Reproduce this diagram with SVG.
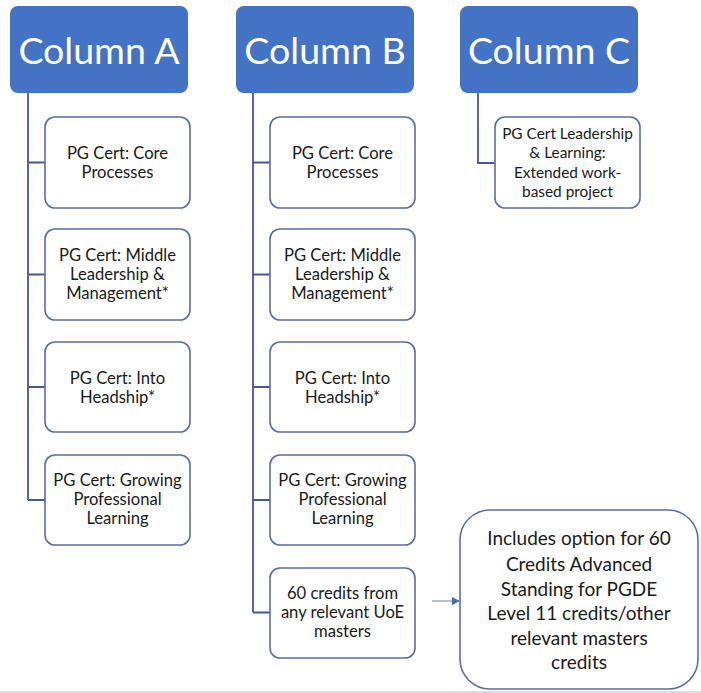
<svg xmlns="http://www.w3.org/2000/svg" width="701" height="693" viewBox="0 0 701 693">
<style>
.hdr{fill:#4472c4;}
.hdrt{font-family:Lato,"Open Sans",sans-serif;font-size:37.5px;fill:#ffffff;text-anchor:middle;}
.box{fill:#ffffff;stroke:#5a6ea6;stroke-width:1.6;}
.bt{font-family:Lato,"Open Sans",sans-serif;font-size:16.6px;fill:#1a1a1a;text-anchor:middle;}
.bc{font-family:Lato,"Open Sans",sans-serif;font-size:15.4px;fill:#1a1a1a;text-anchor:middle;}
.big{font-family:Lato,"Open Sans",sans-serif;font-size:19px;fill:#1a1a1a;text-anchor:middle;}
.conn{fill:none;stroke:#44599a;stroke-width:1.8;}
.arr{fill:none;stroke:#7f95c8;stroke-width:1.2;}
</style>
<defs>
<marker id="ah" viewBox="0 0 10 10" refX="9" refY="5" markerWidth="8" markerHeight="8" markerUnits="userSpaceOnUse" orient="auto">
<path d="M0,0 L10,5 L0,10 z" fill="#4a66b0"/>
</marker>
</defs>
<rect x="0" y="0" width="701" height="693" fill="#ffffff"/>
<rect x="0" y="691" width="701" height="2" fill="#d9dee6"/>
<g id="connectors">
<path class="conn" d="M28,93 V500 M28,162.5 H45 M28,274.5 H45 M28,387 H45 M28,500 H45"/>
<path class="conn" d="M253,93 V612.5 M253,162.5 H270 M253,274.5 H270 M253,387 H270 M253,500 H270 M253,612.5 H270"/>
<path class="conn" d="M478,93 V163 H495"/>
<line class="arr" x1="432" y1="601" x2="459" y2="601" marker-end="url(#ah)"/>
</g>
<g id="colA">
<rect class="hdr" x="10" y="6" width="178" height="87" rx="8"/>
<text class="hdrt" x="99" y="64">Column A</text>
</g>
<g id="colB">
<rect class="hdr" x="236" y="6" width="178" height="87" rx="8"/>
<text class="hdrt" x="325" y="64">Column B</text>
</g>
<g id="colC">
<rect class="hdr" x="460" y="6" width="178" height="87" rx="8"/>
<text class="hdrt" x="549" y="64">Column C</text>
</g>
<g id="a1">
<rect class="box" x="45" y="117" width="145" height="91" rx="10"/>
<text class="bt" x="117.5" y="159">PG Cert: Core</text>
<text class="bt" x="117.5" y="178">Processes</text>
</g>
<g id="a2">
<rect class="box" x="45" y="229" width="145" height="91" rx="10"/>
<text class="bt" x="117.5" y="261">PG Cert: Middle</text>
<text class="bt" x="117.5" y="280">Leadership &amp;</text>
<text class="bt" x="117.5" y="299">Management*</text>
</g>
<g id="a3">
<rect class="box" x="45" y="342" width="145" height="90" rx="10"/>
<text class="bt" x="117.5" y="384">PG Cert: Into</text>
<text class="bt" x="117.5" y="403">Headship*</text>
</g>
<g id="a4">
<rect class="box" x="45" y="455" width="145" height="90" rx="10"/>
<text class="bt" x="117.5" y="486">PG Cert: Growing</text>
<text class="bt" x="117.5" y="505">Professional</text>
<text class="bt" x="117.5" y="524">Learning</text>
</g>
<g id="b1">
<rect class="box" x="270" y="117" width="145" height="91" rx="10"/>
<text class="bt" x="342.5" y="159">PG Cert: Core</text>
<text class="bt" x="342.5" y="178">Processes</text>
</g>
<g id="b2">
<rect class="box" x="270" y="229" width="145" height="91" rx="10"/>
<text class="bt" x="342.5" y="261">PG Cert: Middle</text>
<text class="bt" x="342.5" y="280">Leadership &amp;</text>
<text class="bt" x="342.5" y="299">Management*</text>
</g>
<g id="b3">
<rect class="box" x="270" y="342" width="145" height="90" rx="10"/>
<text class="bt" x="342.5" y="384">PG Cert: Into</text>
<text class="bt" x="342.5" y="403">Headship*</text>
</g>
<g id="b4">
<rect class="box" x="270" y="455" width="145" height="90" rx="10"/>
<text class="bt" x="342.5" y="486">PG Cert: Growing</text>
<text class="bt" x="342.5" y="505">Professional</text>
<text class="bt" x="342.5" y="524">Learning</text>
</g>
<g id="b5">
<rect class="box" x="270" y="568" width="145" height="90" rx="10"/>
<text class="bt" x="342.5" y="599">60 credits from</text>
<text class="bt" x="342.5" y="618">any relevant UoE</text>
<text class="bt" x="342.5" y="637">masters</text>
</g>
<g id="c1">
<rect class="box" x="495" y="117" width="145" height="91" rx="10"/>
<text class="bc" x="567.5" y="139">PG Cert Leadership</text>
<text class="bc" x="567.5" y="158">&amp; Learning:</text>
<text class="bc" x="567.5" y="178">Extended work-</text>
<text class="bc" x="567.5" y="197">based project</text>
</g>
<g id="note">
<rect class="box" x="460" y="510" width="238" height="179" rx="30"/>
<text class="big" x="579" y="545">Includes option for 60</text>
<text class="big" x="579" y="571">Credits Advanced</text>
<text class="big" x="579" y="596">Standing for PGDE</text>
<text class="big" x="579" y="620">Level 11 credits/other</text>
<text class="big" x="579" y="645">relevant masters</text>
<text class="big" x="579" y="669">credits</text>
</g>
</svg>
